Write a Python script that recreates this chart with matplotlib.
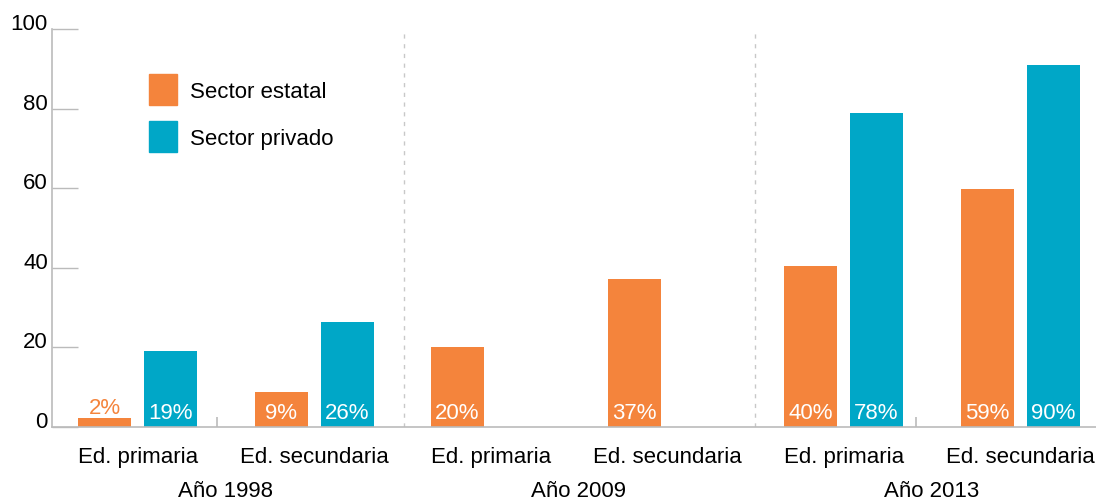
import numpy as np
import matplotlib
matplotlib.use('Agg')
import matplotlib.pyplot as plt
from matplotlib.patches import Patch
plt.rcParams['font.family'] = ['Liberation Sans', 'DejaVu Sans']

# datos
categorias = ['Ed. primaria', 'Ed. secundaria', 'Ed. primaria', 'Ed. secundaria', 'Ed. primaria', 'Ed. secundaria']
anios = ['Año 1998', 'Año 2009', 'Año 2013']
estatal = [2.3, 8.9, 20.0, 37.3, 40.4, 59.8]
privado = [19.2, 26.3, np.nan, np.nan, 78.9, 90.9]
etiq_estatal = ['2%', '9%', '20%', '37%', '40%', '59%']
etiq_privado = ['19%', '26%', '', '', '78%', '90%']

NARANJA = '#F4843C'
AZUL = '#00A7C7'
GRIS = '#BBBBBB'

fig = plt.figure(figsize=(10.96, 5.02), dpi=100)
ax = fig.add_axes([52/1096, 74/502, 1 - 52/1096, 398/502])

x = np.arange(len(categorias))
w = 0.30
off = 0.187
ax.bar(x - off, estatal, w, color=NARANJA, label='Sector estatal')
ax.bar(x + off, privado, w, color=AZUL, label='Sector privado')

# etiquetas de valor
for i in range(len(x)):
    if estatal[i] < 5:
        ax.text(x[i] - off, estatal[i] + 1.3, etiq_estatal[i], ha='center', va='baseline',
                color=NARANJA, fontsize=16)
    else:
        ax.text(x[i] - off, 2.3, etiq_estatal[i], ha='center', va='baseline',
                color='white', fontsize=16)
    if etiq_privado[i]:
        ax.text(x[i] + off, 2.3, etiq_privado[i], ha='center', va='baseline',
                color='white', fontsize=16)

ax.set_xlim(-0.485, 5.43)
ax.set_ylim(0, 100)

for s in ['top', 'right']:
    ax.spines[s].set_visible(False)
ax.spines['left'].set_color(GRIS)
ax.spines['bottom'].set_color(GRIS)
ax.spines['left'].set_linewidth(1.2)
ax.spines['bottom'].set_linewidth(1.2)

ax.set_yticks([0, 20, 40, 60, 80, 100])
ax.tick_params(axis='y', direction='in', length=18.7, color=GRIS, width=1, labelsize=16, pad=3)
for lbl in ax.get_yticklabels():
    lbl.set_verticalalignment('baseline')
ax.set_xticks([])

# separadores
ax.vlines([1.51, 3.5], 0, 100, colors='#C8C8C8', linestyles=(0, (3, 4)), linewidth=1)
ax.vlines([0.45, 4.41], 0, 2.5, colors=GRIS, linewidth=1.2)

# etiquetas de categoria y anio
for i, c in enumerate(categorias):
    ax.annotate(c, xy=(x[i], 0), xycoords=('data', 'axes fraction'), xytext=(0, -21.5),
                textcoords='offset points', ha='center', va='center', fontsize=16)
for j, a in enumerate(anios):
    ax.annotate(a, xy=(2 * j + 0.5, 0), xycoords=('data', 'axes fraction'), xytext=(0, -46),
                textcoords='offset points', ha='center', va='center', fontsize=16)

handles = [Patch(color=NARANJA, label='Sector estatal'), Patch(color=AZUL, label='Sector privado')]
fig.legend(handles=handles, loc='upper left', bbox_to_anchor=(149/1096, 1 - 75/502),
           frameon=False, fontsize=16, borderpad=0, borderaxespad=0,
           handlelength=1.26, handleheight=1.77, handletextpad=0.59, labelspacing=0.72)

fig.savefig('out.png', dpi=100)
